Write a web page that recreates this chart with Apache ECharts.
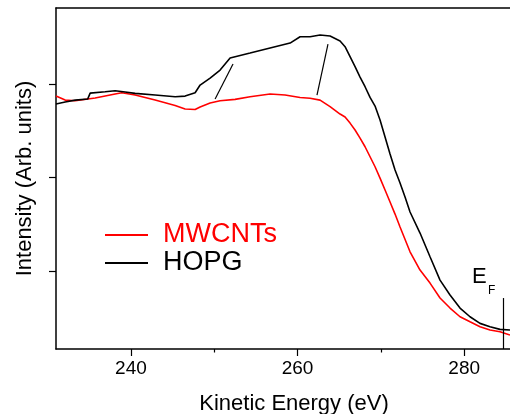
<!DOCTYPE html>
<html>
<head>
<meta charset="utf-8">
<script src="https://cdn.jsdelivr.net/npm/echarts@6/dist/echarts.min.js"></script>
<style>html,body{margin:0;padding:0;background:#fff}#c{width:510px;height:414px}</style>
</head>
<body>
<div id="c"></div>
<script>
// Kinetic energy (eV) and intensity (arb. units)
const hopgEnergy = [231.0,232.1,233.3,234.8,235.1,236.9,238.1,239.3,240.5,242.9,245.3,246.5,247.7,248.3,249.5,250.7,251.9,252.5,254.3,256.7,259.1,260.3,261.5,262.7,263.9,265.1,265.7,266.3,266.9,267.5,268.1,268.7,269.3,269.9,270.5,271.1,271.7,272.3,272.9,273.5,274.7,275.9,277.1,278.3,279.5,280.7,281.9,283.1,284.3,285.5];
const hopgIntensity = [2.786,2.807,2.828,2.839,2.903,2.917,2.928,2.914,2.900,2.882,2.864,2.871,2.906,2.989,3.064,3.149,3.278,3.292,3.331,3.385,3.438,3.505,3.505,3.524,3.513,3.460,3.399,3.292,3.185,3.074,2.971,2.857,2.764,2.615,2.433,2.251,2.080,1.941,1.791,1.631,1.406,1.153,0.903,0.743,0.604,0.511,0.440,0.404,0.376,0.369];
const mwcntEnergy = [231.0,232.1,233.3,235.7,238.1,238.9,240.5,242.9,245.3,246.5,247.7,248.3,249.5,250.7,252.5,254.3,256.7,258.5,260.3,261.5,262.7,263.9,265.1,265.7,266.3,266.9,267.5,268.1,268.7,269.3,269.9,270.5,271.1,271.7,272.3,273.5,274.7,275.9,277.1,278.3,279.5,280.7,281.9,283.1,284.3,285.5];
const mwcntIntensity = [2.871,2.828,2.821,2.850,2.893,2.907,2.882,2.828,2.770,2.732,2.727,2.754,2.796,2.821,2.836,2.864,2.893,2.882,2.855,2.847,2.828,2.759,2.679,2.647,2.582,2.508,2.422,2.329,2.222,2.115,1.994,1.866,1.738,1.609,1.470,1.206,1.010,0.871,0.711,0.604,0.511,0.457,0.404,0.369,0.350,0.315];
const seriesNames = ['MWCNTs', 'HOPG'];
const majorTicks = [240, 260, 280];
const minorTicks = [250, 270];
const yTicks = [1, 2, 3];
// annotation segments [[E1, I1], [E2, I2]]
const annotations = [[[250.1, 2.839], [252.25, 3.213]], [[262.33, 2.882], [263.65, 3.427]]];
const fermiEnergy = 284.7;
const fermiTop = 0.711;

const X_MIN = 231, X_MAX = 285.5, Y_MIN = 0.166, Y_MAX = 3.813;
const FONT = "'Liberation Sans', Arial, sans-serif";

const zip = (a, b) => a.map((v, i) => [v, b[i]]);

const chart = echarts.init(document.getElementById('c'), null, {renderer: 'canvas'});
chart.setOption({
  animation: false,
  backgroundColor: '#fff',
  grid: {left: 56, right: 0, top: 8, bottom: 65, outerBoundsMode: 'none', containLabel: false},
  legend: {
    orient: 'vertical', left: 105, top: 221, padding: 0,
    icon: 'rect', itemWidth: 43, itemHeight: 2, itemGap: 0,
    textStyle: {fontFamily: FONT, fontSize: 27, lineHeight: 28, padding: [0, 0, 0, 10]},
    data: [
      {name: seriesNames[0], textStyle: {color: '#ff0000'}},
      {name: seriesNames[1], textStyle: {color: '#000000'}}
    ]
  },
  xAxis: [
    {
      type: 'value', min: X_MIN, max: X_MAX, position: 'bottom',
      name: 'Kinetic Energy (eV)', nameLocation: 'middle', nameGap: 44,
      nameTextStyle: {fontFamily: FONT, fontSize: 22, color: '#000', padding: [0, 0, 0, 22]},
      axisLine: {show: true, onZero: false, lineStyle: {color: '#000', width: 1.5}},
      axisTick: {show: true, inside: false, length: 7, customValues: majorTicks, lineStyle: {color: '#000', width: 1.2}},
      axisLabel: {show: true, customValues: majorTicks, margin: 10, fontFamily: FONT, fontSize: 19, color: '#000'},
      splitLine: {show: false}
    },
    {
      type: 'value', min: X_MIN, max: X_MAX, position: 'bottom',
      axisLine: {show: false, onZero: false},
      axisTick: {show: true, inside: false, length: 3.5, customValues: minorTicks, lineStyle: {color: '#000', width: 1.2}},
      axisLabel: {show: false},
      splitLine: {show: false}
    },
    {
      type: 'value', min: X_MIN, max: X_MAX, position: 'top',
      axisLine: {show: true, onZero: false, lineStyle: {color: '#000', width: 1.5}},
      axisTick: {show: false}, axisLabel: {show: false}, splitLine: {show: false}
    }
  ],
  yAxis: {
    type: 'value', min: Y_MIN, max: Y_MAX,
    name: 'Intensity (Arb. units)', nameLocation: 'middle', nameGap: 20,
    nameTextStyle: {fontFamily: FONT, fontSize: 22, color: '#000'},
    axisLine: {show: true, onZero: false, lineStyle: {color: '#000', width: 1.5}},
    axisTick: {show: true, inside: false, length: 7, customValues: yTicks, lineStyle: {color: '#000', width: 1.2}},
    axisLabel: {show: false},
    splitLine: {show: false}
  },
  graphic: [
    {
      type: 'text', left: 472, top: 266, silent: true,
      style: {text: 'E', font: "22px 'Liberation Sans', Arial, sans-serif", fill: '#000'}
    },
    {
      type: 'text', left: 488, top: 285, silent: true,
      style: {text: 'F', font: "12px 'Liberation Sans', Arial, sans-serif", fill: '#000'}
    }
  ],
  series: [
    {
      name: seriesNames[0], type: 'line', xAxisIndex: 0, showSymbol: false, symbol: 'none',
      color: '#ff0000', lineStyle: {color: '#ff0000', width: 1.6},
      data: zip(mwcntEnergy, mwcntIntensity), z: 3
    },
    {
      name: seriesNames[1], type: 'line', xAxisIndex: 0, showSymbol: false, symbol: 'none',
      color: '#000000', lineStyle: {color: '#000000', width: 1.6},
      data: zip(hopgEnergy, hopgIntensity), z: 4,
      markLine: {
        silent: true, symbol: ['none', 'none'], animation: false,
        label: {show: false},
        lineStyle: {color: '#000', type: 'solid', width: 1.2},
        data: annotations.map(seg => [{coord: seg[0]}, {coord: seg[1]}])
          .concat([[{coord: [fermiEnergy, Y_MIN]}, {coord: [fermiEnergy, fermiTop]}]])
      }
    }
  ]
});
</script>
</body>
</html>
